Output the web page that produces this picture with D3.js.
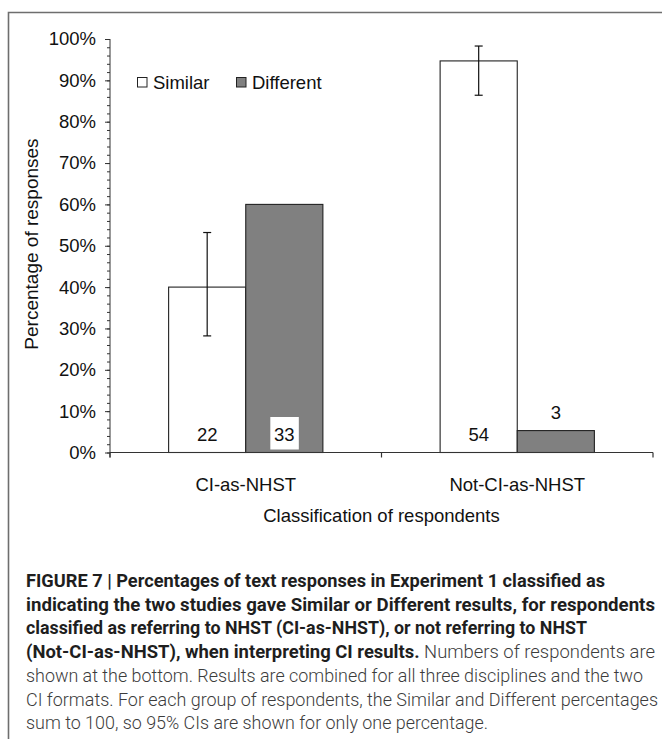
<!DOCTYPE html>
<html>
<head>
<meta charset="utf-8">
<script src="https://cdn.jsdelivr.net/npm/d3@7"></script>
<style>
  html, body { margin: 0; padding: 0; background: #fff; }
  svg { display: block; }
</style>
</head>
<body>
<script>
// ---- data ----
const categories = ["CI-as-NHST", "Not-CI-as-NHST"];
const seriesNames = ["Similar", "Different"];
const similarPct = [40, 94.7];
const differentPct = [60, 5.3];
const similarCILow = [28.2, 86.4];
const similarCIHigh = [53.2, 98.3];
const similarN = [22, 54];
const differentN = [33, 3];
const yTicks = [0, 10, 20, 30, 40, 50, 60, 70, 80, 90, 100];
const yMinorTicks = d3.range(0, 101, 2);
const xTitle = "Classification of respondents";
const yTitle = "Percentage of responses";
const captionLines = [
  [["FIGURE 7 | Percentages of text responses in Experiment 1 classified as", true]],
  [["indicating the two studies gave Similar or Different results, for respondents", true]],
  [["classified as referring to NHST (CI-as-NHST), or not referring to NHST", true]],
  [["(Not-CI-as-NHST), when interpreting CI results.", true], [" Numbers of respondents are", false]],
  [["shown at the bottom. Results are combined for all three disciplines and the two", false]],
  [["CI formats. For each group of respondents, the Similar and Different percentages", false]],
  [["sum to 100, so 95% CIs are shown for only one percentage.", false]]
];
const captionWidths = [579, 629, 561, 629, 617, 632, 462];

// ---- layout ----
const W = 662, H = 739;
const plot = { left: 110, right: 653, top: 39, bottom: 452.5 };
const colors = { Similar: "#ffffff", Different: "#808080" };
const font = "'Liberation Sans', Arial, sans-serif";

const svg = d3.select("body").append("svg").attr("width", W).attr("height", H);
svg.append("rect").attr("width", W).attr("height", H).attr("fill", "#fff");

// frame
svg.append("path").attr("d", `M8.5,${H} V12.5 H${W}`)
  .attr("fill", "none").attr("stroke", "#6e6e6e").attr("stroke-width", 1.6);

const y = d3.scaleLinear().domain([0, 100]).range([plot.bottom, plot.top]);
const x0 = d3.scaleBand().domain(categories).range([plot.left, plot.right]).padding(0);
const x1 = d3.scaleBand().domain(seriesNames).range([0, x0.bandwidth()])
  .paddingInner(0).paddingOuter(0.76);

const rows = categories.map((c, i) => ({
  cat: c,
  bars: [
    { s: "Similar", v: similarPct[i], n: similarN[i], lo: similarCILow[i], hi: similarCIHigh[i] },
    { s: "Different", v: differentPct[i], n: differentN[i] }
  ]
}));

// y axis minor ticks
const yAxisMinor = d3.axisLeft(y).tickValues(yMinorTicks).tickSize(3).tickFormat("");
const gMinor = svg.append("g").attr("transform", `translate(${plot.left},0)`).call(yAxisMinor);
gMinor.select(".domain").remove();
gMinor.selectAll("line").attr("stroke", "#333");

// y axis major
const yAxis = d3.axisLeft(y).tickValues(yTicks).tickSize(5).tickPadding(9)
  .tickFormat(d => d + "%");
const gy = svg.append("g").attr("transform", `translate(${plot.left},0)`).call(yAxis);
gy.select(".domain").attr("d", `M0,${plot.top}V${plot.bottom + 5}`).attr("stroke", "#333");
gy.selectAll("line").attr("stroke", "#333");
gy.selectAll("text").attr("font-family", font).attr("font-size", 18.5).attr("fill", "#111");

// bars
const g = svg.append("g");
const grp = g.selectAll("g.cat").data(rows).join("g")
  .attr("transform", d => `translate(${x0(d.cat)},0)`);
grp.selectAll("rect.bar").data(d => d.bars).join("rect")
  .attr("class", "bar")
  .attr("x", d => x1(d.s))
  .attr("y", d => y(d.v))
  .attr("width", x1.bandwidth())
  .attr("height", d => y(0) - y(d.v))
  .attr("fill", d => colors[d.s])
  .attr("stroke", "#222").attr("stroke-width", 1.1);

// error bars
const eb = grp.selectAll("g.eb").data(d => d.bars.filter(b => b.lo != null)).join("g")
  .attr("stroke", "#111").attr("stroke-width", 1.2);
eb.append("line")
  .attr("x1", d => x1(d.s) + x1.bandwidth() / 2).attr("x2", d => x1(d.s) + x1.bandwidth() / 2)
  .attr("y1", d => y(d.lo)).attr("y2", d => y(d.hi));
["lo", "hi"].forEach(k => {
  eb.append("line")
    .attr("x1", d => x1(d.s) + x1.bandwidth() / 2 - 4).attr("x2", d => x1(d.s) + x1.bandwidth() / 2 + 4)
    .attr("y1", d => y(d[k])).attr("y2", d => y(d[k]));
});

// count labels
grp.each(function(d) {
  const gg = d3.select(this);
  d.bars.forEach(b => {
    const cx = x1(b.s) + x1.bandwidth() / 2;
    const small = y(0) - y(b.v) < 25;
    const by = small ? y(b.v) - 12 : y(0) - 12;
    if (b.s === "Different" && !small) {
      gg.append("rect").attr("x", cx - 14).attr("y", by - 23.5).attr("width", 28.5).attr("height", 32.5)
        .attr("fill", "#fff");
    }
    gg.append("text").attr("x", cx).attr("y", by)
      .attr("text-anchor", "middle").attr("font-family", font).attr("font-size", 18.5).attr("fill", "#111")
      .text(b.n);
  });
});

// x axis
svg.append("line").attr("x1", plot.left).attr("x2", plot.right).attr("y1", y(0)).attr("y2", y(0))
  .attr("stroke", "#333").attr("stroke-width", 1.2);
const bounds = categories.map(c => x0(c)).concat([plot.right]);
svg.selectAll("line.xt").data(bounds).join("line").attr("class", "xt")
  .attr("x1", d => d).attr("x2", d => d).attr("y1", y(0)).attr("y2", y(0) + 5)
  .attr("stroke", "#333").attr("stroke-width", 1.2);
svg.selectAll("text.xl").data(categories).join("text").attr("class", "xl")
  .attr("x", d => x0(d) + x0.bandwidth() / 2).attr("y", 491)
  .attr("text-anchor", "middle").attr("font-family", font).attr("font-size", 18.5).attr("fill", "#111")
  .text(d => d);
svg.append("text").attr("x", (plot.left + plot.right) / 2).attr("y", 522)
  .attr("text-anchor", "middle").attr("font-family", font).attr("font-size", 18.5).attr("fill", "#111")
  .text(xTitle);
svg.append("text").attr("transform", `translate(38,244) rotate(-90)`)
  .attr("text-anchor", "middle").attr("font-family", font).attr("font-size", 19).attr("fill", "#111")
  .text(yTitle);

// legend
const legX = [137, 236];
const leg = svg.selectAll("g.leg").data(seriesNames).join("g").attr("class", "leg")
  .attr("transform", (d, i) => `translate(${legX[i]},77)`);
leg.append("rect").attr("x", 0.5).attr("y", 0.5).attr("width", 9.5).attr("height", 9.5)
  .attr("fill", d => colors[d]).attr("stroke", "#222").attr("stroke-width", 1);
leg.append("text").attr("x", 16).attr("y", 11.5).attr("font-family", font).attr("font-size", 18.5)
  .attr("fill", "#111").text(d => d);

// caption
const cap = svg.append("g");
captionLines.forEach((parts, i) => {
  const t = cap.append("text").attr("x", 26).attr("y", 587 + i * 23.7)
    .attr("font-family", "Roboto, 'Liberation Sans Narrow', sans-serif").attr("font-size", 17.5)
    .attr("textLength", captionWidths[i]).attr("lengthAdjust", "spacingAndGlyphs");
  parts.forEach(([s, bold]) => {
    t.append("tspan").attr("font-weight", bold ? 700 : 300)
      .attr("fill", bold ? "#1e1e1e" : "#3c3c3c").text(s);
  });
});
</script>
</body>
</html>
